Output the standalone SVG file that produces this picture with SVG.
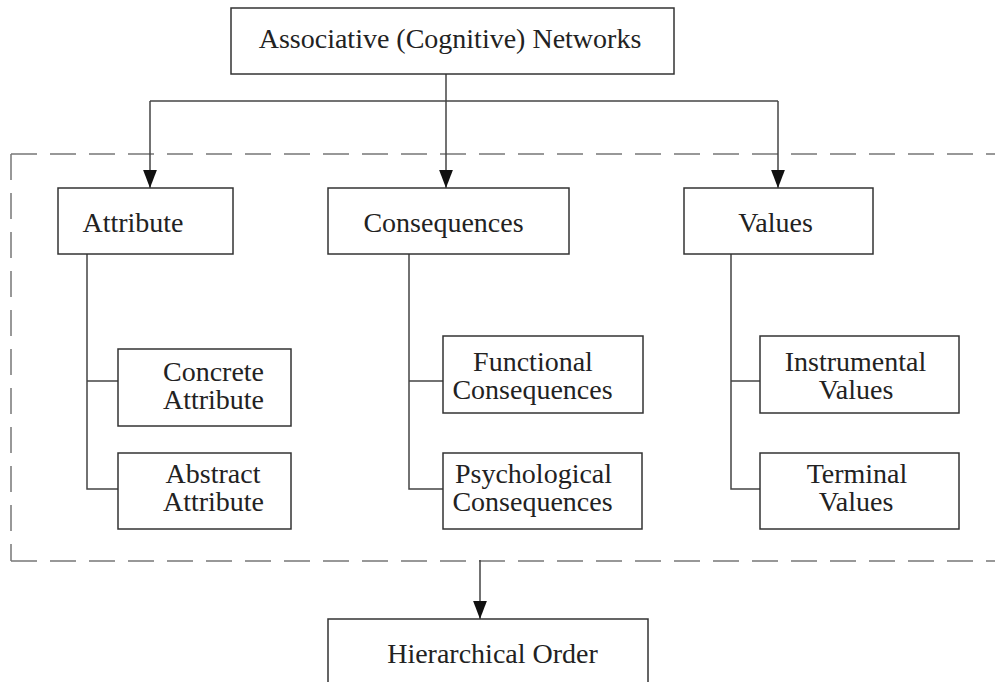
<svg xmlns="http://www.w3.org/2000/svg" width="995" height="682" viewBox="0 0 995 682">
<style>
.box{fill:#fff;stroke:#333;stroke-width:1.5}
.t{font-family:"Liberation Serif","Times New Roman",serif;font-size:28px;fill:#222;text-anchor:middle}
.ln{fill:none;stroke:#444;stroke-width:1.5}
.dash{fill:none;stroke:#777;stroke-width:1.5;stroke-dasharray:26 13}
</style>
<defs>
<marker id="ah" markerUnits="userSpaceOnUse" markerWidth="18" markerHeight="14" refX="17" refY="6.5" orient="auto" viewBox="0 0 17 13">
<path d="M0,0 L17,6.5 L0,13 Z" fill="#111"/>
</marker>
</defs>
<rect width="995" height="682" fill="#fff"/>
<g id="region">
<line class="dash" x1="11" y1="154" x2="995" y2="154"/>
<line class="dash" x1="11" y1="154" x2="11" y2="561"/>
<line class="dash" x1="11" y1="561" x2="995" y2="561"/>
</g>
<g id="connectors">
<line class="ln" x1="446" y1="74" x2="446" y2="101"/>
<line class="ln" x1="150" y1="101" x2="778" y2="101"/>
<line class="ln" x1="150" y1="101" x2="150" y2="188" marker-end="url(#ah)"/>
<line class="ln" x1="446" y1="101" x2="446" y2="188" marker-end="url(#ah)"/>
<line class="ln" x1="778" y1="101" x2="778" y2="188" marker-end="url(#ah)"/>
<path class="ln" d="M87,254 V489 H118 M87,381 H118"/>
<path class="ln" d="M409,254 V489 H443 M409,381 H443"/>
<path class="ln" d="M731,254 V489 H763 M731,381 H763"/>
<line class="ln" x1="480" y1="560" x2="480" y2="619" marker-end="url(#ah)"/>
</g>
<g id="n-assoc">
<rect class="box" x="231" y="8" width="443" height="66"/>
<text class="t" x="450" y="48">Associative (Cognitive) Networks</text>
</g>
<g id="n-attribute">
<rect class="box" x="58" y="188" width="175" height="66"/>
<text class="t" x="133" y="232">Attribute</text>
</g>
<g id="n-consequences">
<rect class="box" x="328" y="188" width="241" height="66"/>
<text class="t" x="443.5" y="232">Consequences</text>
</g>
<g id="n-values">
<rect class="box" x="684" y="188" width="189" height="66"/>
<text class="t" x="775.5" y="232">Values</text>
</g>
<g id="n-concrete">
<rect class="box" x="118" y="349" width="173" height="77"/>
<text class="t" x="213.5" y="381">Concrete</text>
<text class="t" x="213.5" y="409">Attribute</text>
</g>
<g id="n-abstract">
<rect class="box" x="118" y="453" width="173" height="76"/>
<text class="t" x="213" y="483">Abstract</text>
<text class="t" x="213.5" y="511">Attribute</text>
</g>
<g id="n-functional">
<rect class="box" x="443" y="336" width="200" height="77"/>
<text class="t" x="533" y="371">Functional</text>
<text class="t" x="532.5" y="399">Consequences</text>
</g>
<g id="n-psychological">
<rect class="box" x="443" y="453" width="199" height="76"/>
<text class="t" x="533.5" y="483">Psychological</text>
<text class="t" x="532.5" y="511">Consequences</text>
</g>
<g id="n-instrumental">
<rect class="box" x="760" y="336" width="199" height="77"/>
<text class="t" x="855.5" y="371">Instrumental</text>
<text class="t" x="856" y="399">Values</text>
</g>
<g id="n-terminal">
<rect class="box" x="760" y="453" width="199" height="76"/>
<text class="t" x="857" y="483">Terminal</text>
<text class="t" x="856" y="511">Values</text>
</g>
<g id="n-hierarchical">
<rect class="box" x="328" y="619" width="320" height="80"/>
<text class="t" x="492.5" y="663">Hierarchical Order</text>
</g>
</svg>
